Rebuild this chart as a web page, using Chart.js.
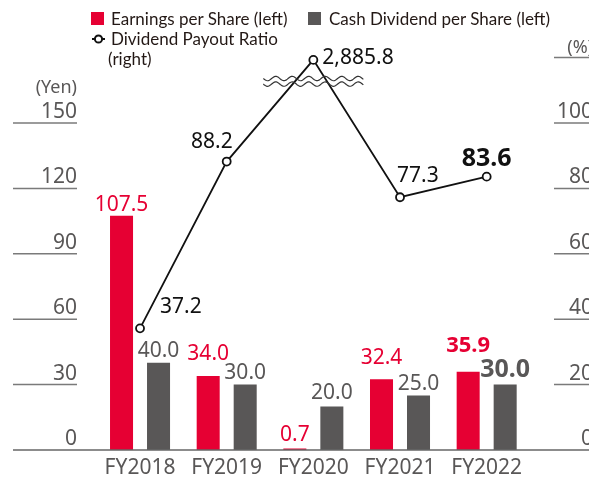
<!DOCTYPE html>
<html>
<head>
<meta charset="utf-8">
<title>EPS, Dividends and Payout Ratio</title>
<script src="https://cdn.jsdelivr.net/npm/chart.js@4.4.1/dist/chart.umd.min.js"></script>
<style>
  html, body { margin: 0; padding: 0; background: #fff; overflow: hidden; }
  #wrap { position: relative; width: 589px; height: 477px; }
  #chart { position: absolute; left: 0; top: 0; }
  .legend { position: absolute; font-family: Lato, 'Noto Sans', sans-serif; font-size: 17px; line-height: 17px; color: #231815; white-space: nowrap; }
  .swatch { position: absolute; width: 13px; height: 13px; }
  .marker { position: absolute; }
</style>
</head>
<body>
<div id="wrap">
  <canvas id="chart" width="589" height="477"></canvas>

  <div class="swatch" style="left:91px; top:12px; background:#e60033"></div>
  <div class="legend" style="left:111px; top:10px">Earnings per Share (left)</div>
  <div class="swatch" style="left:308px; top:12px; background:#595757"></div>
  <div class="legend" style="left:329px; top:10px">Cash Dividend per Share (left)</div>

  <svg class="marker" style="left:90px; top:32px" width="17" height="14">
    <line x1="2" y1="7" x2="15" y2="7" stroke="#111" stroke-width="2"/>
    <circle cx="8.5" cy="7" r="3.6" fill="#fff" stroke="#111" stroke-width="2"/>
  </svg>
  <div class="legend" style="left:111px; top:30px">Dividend Payout Ratio</div>
  <div class="legend" style="left:108px; top:50px">(right)</div>
</div>

<script>
const fiscalYears = ['FY2018', 'FY2019', 'FY2020', 'FY2021', 'FY2022'];
const epsYen = [107.5, 34.0, 0.7, 32.4, 35.9];
const dividendYen = [40.0, 30.0, 20.0, 25.0, 30.0];
const payoutPct = [37.2, 88.2, 2885.8, 77.3, 83.6];
const yenTicks = [0, 30, 60, 90, 120, 150];
const pctTicks = [0, 20, 40, 60, 80, 100];

const RED = '#e60033';
const GREY = '#595757';
const RULE = '#7a7a7a';
const INK = '#111';
const FONT = "'Noto Sans', sans-serif";

// space between a bar top and the baseline of its value
const epsLabelGap = [5, 16, 7, 15, 20];
const divLabelGap = [6, 6, 7, 6, 8];
// payout labels: offset of the text baseline from the point
const payoutLabelPos = [
  { dx: 20, dy: -15, align: 'left' },
  { dx: 6, dy: -14, align: 'right' },
  { dx: 9, dy: 4, align: 'left' },
  { dx: -3, dy: -15, align: 'left' },
  { dx: 0, dy: -11, align: 'center' }
];

// linear scale that parks very large values just under the top (axis break)
class BrokenLinearScale extends Chart.LinearScale {
  static id = 'brokenLinear';
  getPixelForValue(value, index) {
    const o = this.options;
    const shown = value > o.breakAbove ? o.breakShownAt : value;
    return super.getPixelForValue(shown, index);
  }
}
Chart.register(BrokenLinearScale);

const fmt = v => v.toLocaleString('en-US', { minimumFractionDigits: 1, maximumFractionDigits: 1 });

function hline(ctx, x1, x2, y) {
  ctx.beginPath();
  ctx.moveTo(x1, y);
  ctx.lineTo(x2, y);
  ctx.stroke();
}

function wave(ctx, x1, x2, y) {
  const len = 16.5, amp = 2.2;
  ctx.beginPath();
  for (let x = x1; x <= x2; x += 1) {
    const yy = y + amp * Math.sin((x - x1) / len * Math.PI * 2);
    if (x === x1) ctx.moveTo(x, yy); else ctx.lineTo(x, yy);
  }
  ctx.stroke();
}

const axesAndLabels = {
  id: 'axesAndLabels',
  beforeDatasetsDraw(chart) {
    const ctx = chart.ctx;
    const yl = chart.scales.yYen;
    const yr = chart.scales.yPct;
    const x = chart.scales.x;
    ctx.save();
    ctx.strokeStyle = RULE;
    ctx.lineWidth = 1.5;
    ctx.fillStyle = GREY;
    ctx.textBaseline = 'alphabetic';
    ctx.font = '21px ' + FONT;

    // left axis (Yen)
    ctx.textAlign = 'right';
    yenTicks.forEach(v => {
      const y = yl.getPixelForValue(v);
      if (v > 0) hline(ctx, 13, 77, y);
      ctx.fillText(String(v), 77, y - 5);
    });
    ctx.font = '18px ' + FONT;
    ctx.fillText('(Yen)', 77, yl.getPixelForValue(150) - 30);

    // right axis (%), runs off the right edge
    ctx.textAlign = 'right';
    ctx.font = '21px ' + FONT;
    pctTicks.forEach(v => {
      const y = yr.getPixelForValue(v);
      if (v > 0) hline(ctx, 554, 589, y);
      ctx.fillText(String(v), 593, y - 5);
    });
    const yTop = yr.getPixelForValue(yr.max);
    hline(ctx, 554, 589, yTop);
    ctx.font = '18px ' + FONT;
    ctx.fillText('(%)', 593, yTop - 5);

    // category labels
    ctx.textAlign = 'center';
    ctx.font = '21px ' + FONT;
    fiscalYears.forEach((label, i) => {
      ctx.fillText(label, x.getPixelForValue(i), 474);
    });
    ctx.restore();
  },
  afterDatasetsDraw(chart) {
    const ctx = chart.ctx;
    const yl = chart.scales.yYen;
    const yr = chart.scales.yPct;
    const last = fiscalYears.length - 1;
    ctx.save();

    // baseline
    ctx.strokeStyle = '#666';
    ctx.lineWidth = 1.5;
    hline(ctx, 13, 589, yl.getPixelForValue(0));

    // axis break marks around the clipped FY2020 ratio
    const breakIdx = payoutPct.findIndex(v => v > yr.options.breakAbove);
    if (breakIdx >= 0) {
      const cx = chart.scales.x.getPixelForValue(breakIdx);
      ctx.strokeStyle = '#333';
      ctx.lineWidth = 1.2;
      wave(ctx, cx - 50, cx + 50, yr.getPixelForValue(113.6));
      wave(ctx, cx - 50, cx + 50, yr.getPixelForValue(111.9));
    }

    ctx.textBaseline = 'alphabetic';
    ctx.textAlign = 'center';

    chart.getDatasetMeta(0).data.forEach((bar, i) => {
      ctx.font = (i === last ? 'bold 22px ' : '21px ') + FONT;
      ctx.fillStyle = RED;
      ctx.fillText(fmt(epsYen[i]), bar.x, bar.y - epsLabelGap[i]);
    });
    chart.getDatasetMeta(1).data.forEach((bar, i) => {
      ctx.font = (i === last ? 'bold 25px ' : '21px ') + FONT;
      ctx.fillStyle = GREY;
      ctx.fillText(fmt(dividendYen[i]), bar.x, bar.y - divLabelGap[i]);
    });
    chart.getDatasetMeta(2).data.forEach((pt, i) => {
      const p = payoutLabelPos[i];
      ctx.font = (i === last ? 'bold 25px ' : '21px ') + FONT;
      ctx.fillStyle = INK;
      ctx.textAlign = p.align;
      ctx.fillText(fmt(payoutPct[i]), pt.x + p.dx, pt.y + p.dy);
    });
    ctx.restore();
  }
};

new Chart(document.getElementById('chart'), {
  type: 'bar',
  data: {
    labels: fiscalYears,
    datasets: [
      {
        label: 'Earnings per Share (left)',
        data: epsYen,
        backgroundColor: RED,
        yAxisID: 'yYen',
        categoryPercentage: 0.854,
        barPercentage: 0.622,
        order: 1
      },
      {
        label: 'Cash Dividend per Share (left)',
        data: dividendYen,
        backgroundColor: GREY,
        yAxisID: 'yYen',
        categoryPercentage: 0.854,
        barPercentage: 0.622,
        order: 1
      },
      {
        type: 'line',
        label: 'Dividend Payout Ratio (right)',
        data: payoutPct,
        yAxisID: 'yPct',
        borderColor: INK,
        borderWidth: 1.8,
        pointRadius: 4,
        pointBorderWidth: 1.8,
        pointBorderColor: INK,
        pointBackgroundColor: '#fff',
        tension: 0,
        clip: false,
        order: 0
      }
    ]
  },
  options: {
    responsive: false,
    animation: false,
    layout: { padding: { left: 96.7, right: 59, top: 57.6, bottom: 27 } },
    plugins: {
      legend: { display: false },
      tooltip: { enabled: false }
    },
    scales: {
      x: { type: 'category', display: false, offset: true },
      yYen: { type: 'linear', display: false, min: 0, max: 180 },
      yPct: {
        type: 'brokenLinear',
        display: false,
        position: 'right',
        min: 0,
        max: 120,
        breakAbove: 120,
        breakShownAt: 119.3
      }
    }
  },
  plugins: [axesAndLabels]
});
</script>
</body>
</html>
